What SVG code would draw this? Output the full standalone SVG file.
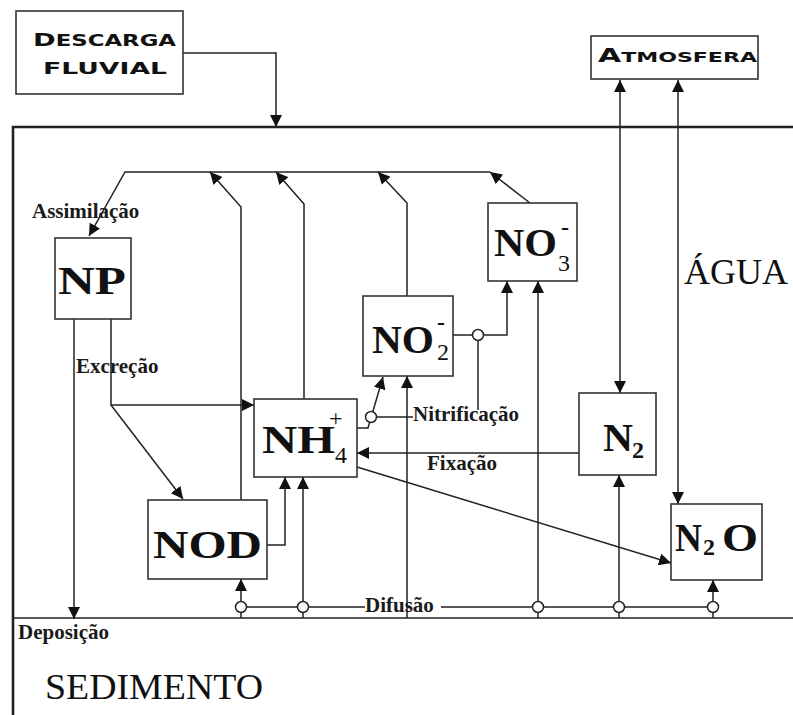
<svg xmlns="http://www.w3.org/2000/svg" width="793" height="715" viewBox="0 0 793 715">
<defs>
<marker id="ah" viewBox="0 0 12 12" refX="12" refY="6" markerWidth="12" markerHeight="12" markerUnits="userSpaceOnUse" orient="auto-start-reverse"><path d="M0,0 L12,6 L0,12 z" fill="#111"/></marker>
<style>
.box{fill:#fff;stroke:#333;stroke-width:1.6}
.c{fill:none;stroke:#222;stroke-width:1.5}
.a{fill:none;stroke:#222;stroke-width:1.5;marker-end:url(#ah)}
.ring{fill:#fff;stroke:#222;stroke-width:1.5}
.lab{font-family:"Liberation Serif","Times New Roman","DejaVu Serif",serif;font-weight:bold;font-size:21px;fill:#1a1a1a}
.big{font-family:"Liberation Serif","Times New Roman","DejaVu Serif",serif;font-weight:bold;font-size:40px;fill:#111}
.sub{font-family:"Liberation Serif","Times New Roman","DejaVu Serif",serif;font-size:24px;fill:#111}
.zone{font-family:"Liberation Serif","Times New Roman","DejaVu Serif",serif;font-size:36px;fill:#111}
.cap{font-family:"DejaVu Sans",sans-serif;font-weight:bold;fill:#111}
</style>
</defs>
<rect width="793" height="715" fill="#fff"/>
<g id="frame">
<path d="M13,715 V127 H793" fill="none" stroke="#222" stroke-width="2.6"/>
<path d="M13,618 H793" fill="none" stroke="#222" stroke-width="1.5"/>
</g>
<g id="connectors">
<path class="a" d="M183,53 H276 V127"/>
<path class="a" d="M620,393 V80" style="marker-start:url(#ah)"/>
<path class="a" d="M678,504 V80" style="marker-start:url(#ah)"/>
<path class="a" d="M490,172 H125 L89,236"/>
<path class="a" d="M241,500 V207 L210,172"/>
<path class="a" d="M304,399 V204 L276,172"/>
<path class="a" d="M407,296 V203 L378,172"/>
<path class="a" d="M530,203 L490,172"/>
<path class="a" d="M74,319 V619"/>
<path class="a" d="M111,319 V405 H254"/>
<path class="a" d="M111,405 L183,499"/>
<path class="a" d="M267,545 H285 V477"/>
<path class="a" d="M303,618 V477"/>
<path class="a" d="M241,618 V579"/>
<path class="a" d="M407,618 V376"/>
<path class="a" d="M538,618 V281"/>
<path class="a" d="M619,618 V475"/>
<path class="a" d="M713,618 V580"/>
<path class="c" d="M241,607 H365 M441,607 H713"/>
<path class="a" d="M357,428 H368 L383,377"/>
<path class="c" d="M371,417 H413"/>
<path class="a" d="M453,335 H507 V281"/>
<path class="c" d="M478,335 V410"/>
<path class="a" d="M579,453 H357"/>
<path class="a" d="M357,467 L671,563"/>
<circle class="ring" cx="241" cy="607" r="5.5"/>
<circle class="ring" cx="303" cy="607" r="5.5"/>
<circle class="ring" cx="538" cy="607" r="5.5"/>
<circle class="ring" cx="619" cy="607" r="5.5"/>
<circle class="ring" cx="713" cy="607" r="5.5"/>
<circle class="ring" cx="371" cy="417" r="5.5"/>
<circle class="ring" cx="478" cy="335" r="5.5"/>
</g>
<g id="descarga">
<rect class="box" x="16" y="11" width="167" height="83"/>
<text class="cap" x="33" y="46" textLength="143" lengthAdjust="spacingAndGlyphs"><tspan font-size="18">D</tspan><tspan font-size="15">ESCARGA</tspan></text>
<text class="cap" x="43" y="74" font-size="15" textLength="124" lengthAdjust="spacingAndGlyphs">FLUVIAL</text>
</g>
<g id="atmosfera">
<rect class="box" x="591" y="36" width="167" height="43"/>
<text class="cap" x="598" y="62" textLength="159" lengthAdjust="spacingAndGlyphs"><tspan font-size="19">A</tspan><tspan font-size="14">TMOSFERA</tspan></text>
</g>
<g id="np">
<rect class="box" x="55" y="238" width="76" height="81"/>
<text class="big" x="58" y="294" textLength="68" lengthAdjust="spacingAndGlyphs">NP</text>
</g>
<g id="nod">
<rect class="box" x="148" y="500" width="119" height="79"/>
<text class="big" x="153" y="558" textLength="109" lengthAdjust="spacingAndGlyphs">NOD</text>
</g>
<g id="nh4">
<rect class="box" x="254" y="399" width="103" height="78"/>
<text class="big" x="262" y="453" textLength="73" lengthAdjust="spacingAndGlyphs">NH</text>
<text class="sub" x="329" y="426" font-size="22">+</text>
<text class="sub" x="335" y="463">4</text>
</g>
<g id="no2">
<rect class="box" x="363" y="296" width="90" height="80"/>
<text class="big" x="372" y="353" textLength="62" lengthAdjust="spacingAndGlyphs">NO</text>
<text class="sub" x="437" y="330" font-weight="bold">-</text>
<text class="sub" x="437" y="360">2</text>
</g>
<g id="no3">
<rect class="box" x="488" y="203" width="89" height="78"/>
<text class="big" x="494" y="256" textLength="63" lengthAdjust="spacingAndGlyphs">NO</text>
<text class="sub" x="561" y="235" font-weight="bold">-</text>
<text class="sub" x="558" y="271">3</text>
</g>
<g id="n2">
<rect class="box" x="579" y="393" width="77" height="82"/>
<text class="big" x="603" y="451" textLength="30" lengthAdjust="spacingAndGlyphs">N</text>
<text class="sub" x="632" y="458" font-weight="bold">2</text>
</g>
<g id="n2o">
<rect class="box" x="671" y="504" width="91" height="76"/>
<text class="big" x="675" y="551" textLength="27" lengthAdjust="spacingAndGlyphs">N</text>
<text class="sub" x="703" y="555" font-weight="bold">2</text>
<text class="big" x="722" y="551" textLength="36" lengthAdjust="spacingAndGlyphs">O</text>
</g>
<g id="labels">
<text class="lab" x="32" y="218">Assimilação</text>
<text class="lab" x="76" y="373">Excreção</text>
<text class="lab" x="413" y="421">Nitrificação</text>
<text class="lab" x="427" y="470">Fixação</text>
<text class="lab" x="365" y="612">Difusão</text>
<text class="lab" x="18" y="639">Deposição</text>
<text class="zone" x="684" y="284">ÁGUA</text>
<text class="zone" x="45" y="699" textLength="218" lengthAdjust="spacingAndGlyphs">SEDIMENTO</text>
</g>
</svg>
